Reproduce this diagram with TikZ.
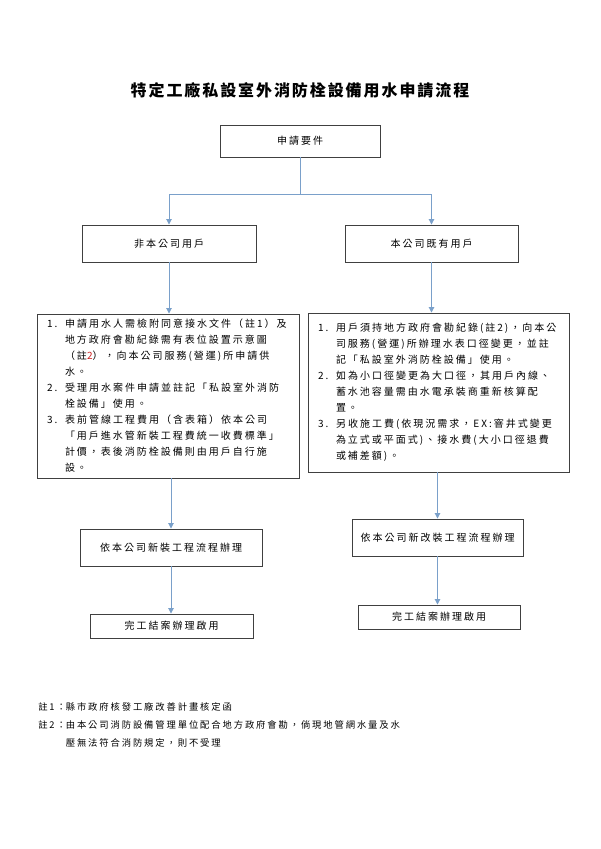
\documentclass[tikz,border=0pt]{standalone}
\usepackage{fontspec}
\setmainfont{Noto Sans CJK TC}[LetterSpace=20]
\newfontfamily\titlefont{Noto Sans CJK TC}[LetterSpace=12]
\usepackage{xcolor}
\usetikzlibrary{arrows.meta, positioning}
\definecolor{flowblue}{RGB}{122,160,202}
\definecolor{flowedge}{RGB}{64,64,64}
\definecolor{flowred}{RGB}{204,32,32}
\tikzset{
  stepbox/.style={draw=flowedge, line width=0.7pt, inner sep=0pt,
                  font=\fontsize{7.5}{12}\selectfont},
  listbox/.style={stepbox, inner xsep=7.5pt, align=left},
  flowline/.style={draw=flowblue, line width=0.7pt},
  flowarrow/.style={flowline, -{Triangle[length=4pt, width=4pt]}}
}

\begin{document}
\begin{tikzpicture}[x=0.75pt, y=-0.75pt]
  \useasboundingbox (0,0) rectangle (600,849);
  % Title
  \node[font=\titlefont\bfseries\fontsize{12}{14}\selectfont] (title) at (300,90)
    {特定工廠私設室外消防栓設備用水申請流程};
  % Top box and the two user types
  \node[stepbox, minimum width=120pt, minimum height=24pt] (req) at (300,141) {申請要件};
  \node[stepbox, minimum width=130.5pt, minimum height=27.75pt] (lbox) at (169,243.5) {非本公司用戶};
  \node[stepbox, minimum width=129.75pt, minimum height=27.75pt] (rbox) at (431.5,243.5) {本公司既有用戶};
  % Conditions of each branch
  \node[listbox, text width=181.5pt, minimum height=123pt] (llist) at (168,396) {%
    \begin{tabular}{@{}p{13.5pt}@{}l@{}}
    1. & 申請用水人需檢附同意接水文件（註1）及\\
       & 地方政府會勘紀錄需有表位設置示意圖\\
       & （註\textcolor{flowred}{2}），向本公司服務(營運)所申請供\\
       & 水。\\
    2. & 受理用水案件申請並註記「私設室外消防\\
       & 栓設備」使用。\\
    3. & 表前管線工程費用（含表箱）依本公司\\
       & 「用戶進水管新裝工程費統一收費標準」\\
       & 計價，表後消防栓設備則由用戶自行施\\
       & 設。
    \end{tabular}};
  \node[listbox, text width=180.75pt, minimum height=119.25pt] (rlist) at (438.5,392.5) {%
    \begin{tabular}{@{}p{13.5pt}@{}l@{}}
    1. & 用戶須持地方政府會勘紀錄(註2)，向本公\\
       & 司服務(營運)所辦理水表口徑變更，並註\\
       & 記「私設室外消防栓設備」使用。\\
    2. & 如為小口徑變更為大口徑，其用戶內線、\\
       & 蓄水池容量需由水電承裝商重新核算配\\
       & 置。\\
    3. & 另收施工費(依現況需求，EX:窨井式變更\\
       & 為立式或平面式)、接水費(大小口徑退費\\
       & 或補差額)。
    \end{tabular}};
  % Works and completion
  \node[stepbox, minimum width=136.5pt, minimum height=27.75pt] (lnew) at (171,547.5) {依本公司新裝工程流程辦理};
  \node[stepbox, minimum width=122.25pt, minimum height=18pt] (ldone) at (171.5,626) {完工結案辦理啟用};
  \node[stepbox, minimum width=128.25pt, minimum height=27.75pt] (rnew) at (437.5,537.5) {依本公司新改裝工程流程辦理};
  \node[stepbox, minimum width=121.5pt, minimum height=18pt] (rdone) at (439,617) {完工結案辦理啟用};
  % Connectors
  \coordinate (split) at (300,194);
  \draw[flowline] (req.south) -- (split);
  \draw[flowarrow] (split) -| (lbox.north);
  \draw[flowarrow] (split) -| (rbox.north);
  \draw[flowarrow] (lbox.south) -- (lbox.south |- llist.north);
  \draw[flowarrow] (rbox.south) -- (rbox.south |- rlist.north);
  \draw[flowarrow] (lnew.north |- llist.south) -- (lnew.north);
  \draw[flowarrow] (rnew.north |- rlist.south) -- (rnew.north);
  \draw[flowarrow] (lnew.south) -- (lnew.south |- ldone.north);
  \draw[flowarrow] (rnew.south) -- (rnew.south |- rdone.north);
  % Notes
  \node[anchor=west, inner sep=0pt, font=\fontsize{7}{13.5}\selectfont] (notes) at (38,725) {%
    \begin{tabular}{@{}l@{}l@{}}
    註1： & 縣市政府核發工廠改善計畫核定函\\
    註2： & 由本公司消防設備管理單位配合地方政府會勘，倘現地管網水量及水\\
          & 壓無法符合消防規定，則不受理
    \end{tabular}};
\end{tikzpicture}
\end{document}
